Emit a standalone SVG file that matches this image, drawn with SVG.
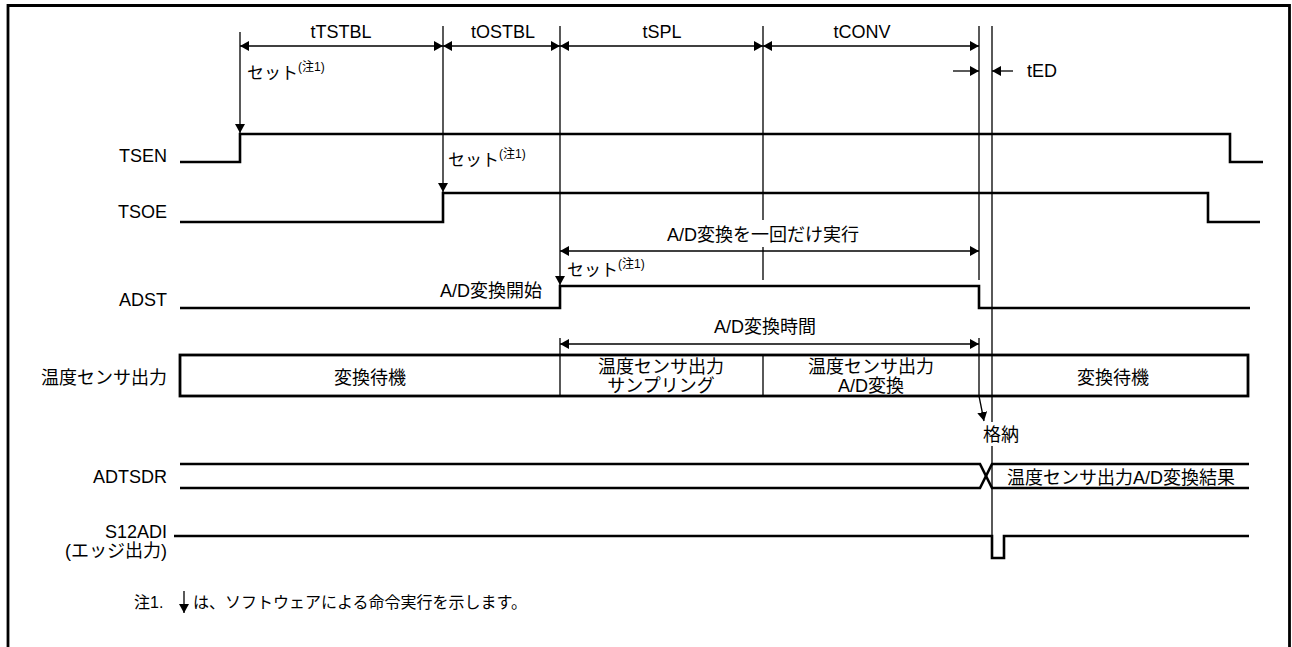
<svg xmlns="http://www.w3.org/2000/svg" width="1292" height="647" viewBox="0 0 1292 647">
<style>
text{font-family:"Liberation Sans","Noto Sans CJK JP",sans-serif;font-size:18px;fill:#000}
.m{text-anchor:middle}
.e{text-anchor:end}
.sig{fill:none;stroke:#000;stroke-width:2.6;stroke-linejoin:miter}
.thin{fill:none;stroke:#000;stroke-width:1.3}
.da{marker-start:url(#ah);marker-end:url(#ah)}
.sa{marker-end:url(#ah)}
.sup{font-size:12px}
.set{font-size:17px}
.note{font-size:16px}
</style>
<defs>
<marker id="ah" viewBox="0 0 9 10" refX="9" refY="5" markerWidth="9" markerHeight="10" markerUnits="userSpaceOnUse" orient="auto-start-reverse"><path d="M0,0 L9,5 L0,10 z" fill="#000"/></marker>
</defs>
<rect x="0" y="0" width="1292" height="647" fill="#fff"/>
<path d="M8,660 V5.5 H1289.5 V660" fill="none" stroke="#000" stroke-width="2.8"/>

<g id="TSEN">
<text class="e" x="167" y="162">TSEN</text>
<path class="sig" d="M180,162 H240 V134 H1230 V162 H1263"/>
</g>
<g id="TSOE">
<text class="e" x="167" y="218">TSOE</text>
<path class="sig" d="M180,222 H443 V193 H1208 V222 H1260"/>
</g>
<g id="ADST">
<text class="e" x="167" y="306">ADST</text>
<path class="sig" d="M180,308 H560 V286 H979 V308 H1250"/>
<text class="e" x="542" y="297">A/D変換開始</text>
</g>
<g id="sensor">
<text class="e" x="167" y="384">温度センサ出力</text>
<rect x="180" y="355" width="1068" height="41" fill="none" stroke="#000" stroke-width="2.8"/>
<text class="m" x="370" y="384">変換待機</text>
<text class="m" x="661" y="373">温度センサ出力</text>
<text class="m" x="661" y="392">サンプリング</text>
<text class="m" x="871" y="373">温度センサ出力</text>
<text class="m" x="871" y="392">A/D変換</text>
<text class="m" x="1113" y="384">変換待機</text>
</g>
<g id="ADTSDR">
<text class="e" x="167" y="483">ADTSDR</text>
<path class="sig" d="M180,464 H980 L992,488 H1249"/>
<path class="sig" d="M180,488 H980 L992,464 H1249"/>
<text x="1007" y="484">温度センサ出力A/D変換結果</text>
</g>
<g id="S12ADI">
<text class="e" x="167" y="538">S12ADI</text>
<text class="e" x="167" y="557">(エッジ出力)</text>
<path class="sig" d="M174,536 H992 V558 H1004 V536 H1249"/>
</g>

<g id="connectors">
<path class="thin sa" d="M240,32 V133"/>
<path class="thin sa" d="M443,26 V192"/>
<path class="thin sa" d="M560,26 V285"/>
<path class="thin" d="M763,26 V220 M763,247 V280"/>
<path class="thin" d="M979,26 V280"/>
<path class="thin" d="M992,26 V422 M992,446 V558"/>
<path class="thin da" d="M240,46 H443"/>
<path class="thin da" d="M443,46 H560"/>
<path class="thin da" d="M560,46 H763"/>
<path class="thin da" d="M763,46 H979"/>
<path class="thin sa" d="M953,71 H979"/>
<path class="thin sa" d="M1013,71 H992"/>
<path class="thin da" d="M560,251 H979"/>
<path class="thin da" d="M560,344 H979"/>
<path class="thin" d="M560,338 V396 M763,355 V396 M979,338 V396"/>
<path class="thin sa" d="M979,396 L984,421"/>
<path class="thin sa" d="M184,591 V613"/>
</g>

<g id="labels">
<text class="m" x="341" y="38">tTSTBL</text>
<text class="m" x="503" y="38">tOSTBL</text>
<text class="m" x="662" y="38">tSPL</text>
<text class="m" x="862" y="38">tCONV</text>
<text x="1027" y="77">tED</text>
<text class="set" x="247" y="79">セット<tspan class="sup" dy="-8">(注1)</tspan></text>
<text class="set" x="448" y="166">セット<tspan class="sup" dy="-8">(注1)</tspan></text>
<text class="set" x="567" y="276">セット<tspan class="sup" dy="-8">(注1)</tspan></text>
<text class="m" x="763" y="241">A/D変換を一回だけ実行</text>
<text class="m" x="765" y="333">A/D変換時間</text>
<text x="983" y="441">格納</text>
<text class="note" x="134" y="608">注1.</text>
<text class="note" x="193" y="608">は、ソフトウェアによる命令実行を示します。</text>
</g>
</svg>
